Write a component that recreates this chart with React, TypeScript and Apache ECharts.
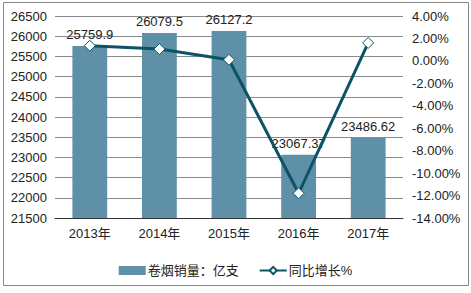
import React, { useEffect, useRef } from "react";
import * as echarts from "echarts";

const categories = ["2013年", "2014年", "2015年", "2016年", "2017年"];
const salesValues = [25759.9, 26079.5, 26127.2, 23067.37, 23486.62];
const growthValues = [1.35, 1.05, 0.1, -11.8, 1.6];
const salesName = "卷烟销量：亿支";
const growthName = "同比增长%";

export default function App() {
  const ref = useRef<HTMLDivElement>(null);
  useEffect(() => {
    document.body.style.margin = "0";
    const chart = echarts.init(ref.current!, null, { renderer: "svg" });
    const font = "Arial, 'Liberation Sans', 'Noto Sans CJK SC', sans-serif";
    chart.setOption({
      animation: false,
      backgroundColor: "#fff",
      textStyle: { fontFamily: font },
      graphic: [
        {
          type: "rect",
          shape: { x: 3.5, y: 2.5, width: 465, height: 283 },
          style: { fill: "none", stroke: "#888", lineWidth: 1 },
          silent: true,
        },
      ],
      grid: { left: 55, right: 68, top: 16, bottom: 75 },
      legend: {
        left: "center",
        top: 259,
        itemWidth: 27,
        itemHeight: 9,
        itemGap: 20,
        textStyle: { fontSize: 13, color: "#222", fontFamily: font, padding: [0, 0, 0, -3] },
        data: [
          { name: salesName, icon: "rect" },
          { name: growthName },
        ],
      },
      xAxis: {
        type: "category",
        data: categories,
        axisLine: { onZero: false, lineStyle: { color: "#333", width: 1 } },
        axisTick: { show: false },
        axisLabel: { color: "#222", fontSize: 13, margin: 9 },
      },
      yAxis: [
        {
          type: "value",
          min: 21500,
          max: 26500,
          interval: 500,
          axisLine: { show: false },
          axisTick: { show: false },
          axisLabel: {
            color: "#222",
            fontSize: 13,
            margin: 8,
            formatter: (v: number) => String(v),
          },
          splitLine: { lineStyle: { color: "#8a8a8a", width: 1 } },
        },
        {
          type: "value",
          min: -14,
          max: 4,
          interval: 2,
          axisLine: { show: false },
          axisTick: { show: false },
          splitLine: { show: false },
          axisLabel: {
            color: "#222",
            fontSize: 13,
            margin: 9,
            formatter: (v: number) => v.toFixed(2) + "%",
          },
        },
      ],
      series: [
        {
          name: salesName,
          type: "bar",
          data: salesValues,
          barWidth: "50%",
          itemStyle: { color: "#5e91a8" },
          label: {
            show: true,
            position: "top",
            distance: 5,
            color: "#222",
            fontSize: 13,
          },
          z: 2,
        },
        {
          name: growthName,
          type: "line",
          yAxisIndex: 1,
          data: growthValues,
          symbol: "diamond",
          symbolSize: 11,
          lineStyle: { color: "#0c5366", width: 3 },
          itemStyle: { color: "#fff", borderColor: "#0c5366", borderWidth: 1 },
          z: 3,
        },
      ],
    });
    return () => chart.dispose();
  }, []);
  return <div ref={ref} style={{ width: 471, height: 293 }} />;
}
